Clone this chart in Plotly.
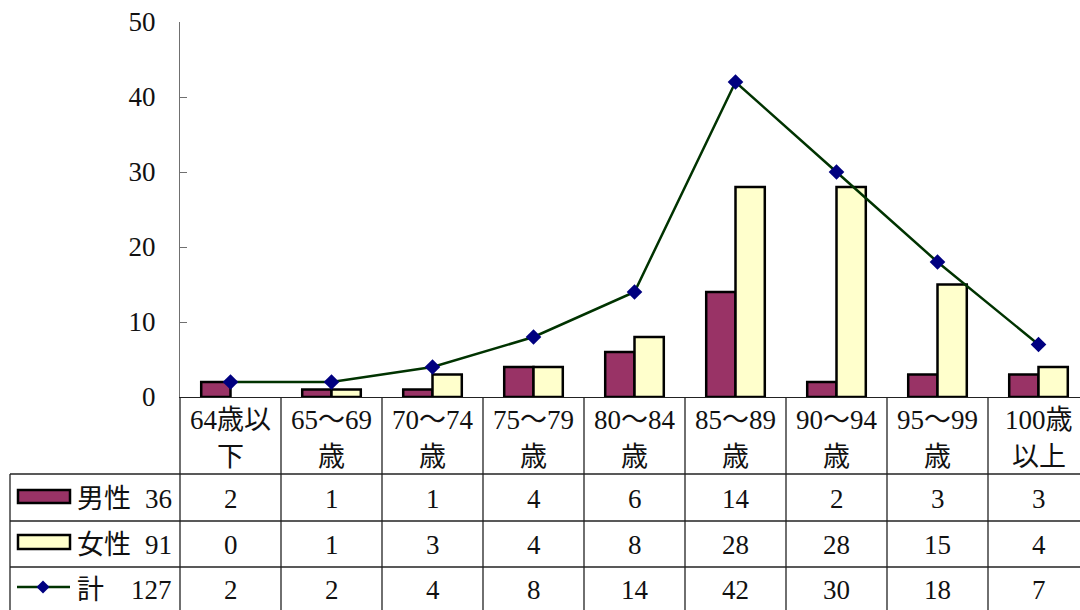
import plotly.graph_objects as go

# Age groups (two-line labels for the data-table header)
categories = ["64歳以<br>下", "65～69<br>歳", "70～74<br>歳", "75～79<br>歳", "80～84<br>歳",
              "85～89<br>歳", "90～94<br>歳", "95～99<br>歳", "100歳<br>以上"]
male = [2, 1, 1, 4, 6, 14, 2, 3, 3]
female = [0, 1, 3, 4, 8, 28, 28, 15, 4]
total = [2, 2, 4, 8, 14, 42, 30, 18, 7]
series_names = ["男性", "女性", "計"]
y_ticks = [0, 10, 20, 30, 40, 50]

W, H = 1080, 610
FONT = "Liberation Serif, Noto Sans CJK JP"
FS = 27
TXT = "#111111"
MALE_C = "#993366"
FEMALE_C = "#FFFFCC"
LINE_C = "#003300"
MARK_C = "#000080"
BAR_EDGE = 2.5


def px(x):
    return x / W


def py(y):
    return 1 - y / H


def outline_widths(vals):
    # no outline for empty (zero) bars
    return [BAR_EDGE if v else 0 for v in vals]


xs = list(range(len(categories)))
col_w = 101.0
plot_left, plot_right = 180, 1080
x_range = [-0.5, -0.5 + (plot_right - plot_left) / col_w]

fig = go.Figure()
fig.add_trace(go.Bar(x=xs, y=male, name=series_names[0],
                     marker=dict(color=MALE_C, line=dict(color="black", width=outline_widths(male)))))
fig.add_trace(go.Bar(x=xs, y=female, name=series_names[1],
                     marker=dict(color=FEMALE_C, line=dict(color="black", width=outline_widths(female)))))
fig.add_trace(go.Scatter(x=xs, y=total, name=series_names[2], mode="lines+markers",
                         line=dict(color=LINE_C, width=2.5),
                         marker=dict(symbol="diamond", size=12, color=MARK_C)))

shapes = []
annotations = []

# data table grid
line_style = dict(color="#222222", width=1.3)
for y in (474, 521, 567):
    shapes.append(dict(type="line", xref="paper", yref="paper", x0=px(10), x1=px(1080), y0=py(y), y1=py(y), line=line_style))
shapes.append(dict(type="line", xref="paper", yref="paper", x0=px(10), x1=px(10), y0=py(474), y1=py(640), line=line_style))
for i in range(len(categories)):
    xb = plot_left + i * col_w
    shapes.append(dict(type="line", xref="paper", yref="paper", x0=px(xb), x1=px(xb), y0=py(397), y1=py(640), line=line_style))

# header labels (two lines per column)
for i, lab in enumerate(categories):
    for j, part in enumerate(lab.split("<br>")):
        annotations.append(dict(x=i, xref="x", y=py(420 + 37 * j), yref="paper", text=part, showarrow=False,
                                xanchor="center", yanchor="middle", font=dict(family=FONT, size=FS, color=TXT)))

# values per row, with series key and total in the first column
row_centers = [499, 545, 590]
for r, vals in enumerate([male, female, total]):
    for i, v in enumerate(vals):
        annotations.append(dict(x=i, xref="x", y=py(row_centers[r]), yref="paper", text=str(v), showarrow=False,
                                xanchor="center", yanchor="middle", font=dict(family=FONT, size=FS, color=TXT)))
    annotations.append(dict(x=px(75), xref="paper", y=py(row_centers[r]), yref="paper", text=series_names[r],
                            showarrow=False, xanchor="left", yanchor="middle", font=dict(family=FONT, size=FS, color=TXT)))
    annotations.append(dict(x=px(174), xref="paper", y=py(row_centers[r]), yref="paper", text=str(sum(vals)),
                            showarrow=False, xanchor="right", yanchor="middle", font=dict(family=FONT, size=FS, color=TXT)))

# legend keys inside the table
shapes.append(dict(type="rect", xref="paper", yref="paper", x0=px(18), x1=px(70), y0=py(490), y1=py(503),
                   fillcolor=MALE_C, line=dict(color="black", width=BAR_EDGE)))
shapes.append(dict(type="rect", xref="paper", yref="paper", x0=px(18), x1=px(70), y0=py(535), y1=py(549),
                   fillcolor=FEMALE_C, line=dict(color="black", width=BAR_EDGE)))
shapes.append(dict(type="line", xref="paper", yref="paper", x0=px(17), x1=px(70), y0=py(587), y1=py(587),
                   line=dict(color=LINE_C, width=2.5)))
cx, cy, d = 43, 587, 6.5
shapes.append(dict(type="path", xref="paper", yref="paper",
                   path=f"M {px(cx)},{py(cy - d)} L {px(cx + d)},{py(cy)} L {px(cx)},{py(cy + d)} L {px(cx - d)},{py(cy)} Z",
                   fillcolor=MARK_C, line=dict(color=MARK_C, width=0)))

fig.update_layout(
    width=W, height=H,
    margin=dict(l=0, r=0, t=0, b=0, pad=0),
    paper_bgcolor="white", plot_bgcolor="white",
    barmode="group", bargap=0.42, bargroupgap=0,
    showlegend=False,
    shapes=shapes, annotations=annotations,
    xaxis=dict(domain=[px(plot_left), 1], range=x_range, showticklabels=False, ticks="", automargin=False,
               showgrid=False, zeroline=False, showline=True, linecolor="#222222", linewidth=1.3),
    yaxis=dict(domain=[py(397), py(22)], range=[0, 50], tickvals=y_ticks, ticks="inside", ticklen=7,
               tickcolor="#707070", tickwidth=1.3, showline=True, linecolor="#707070", linewidth=1.3,
               showgrid=False, zeroline=False, ticklabelstandoff=18, automargin=False,
               tickfont=dict(family=FONT, size=FS, color=TXT)),
)

fig.write_html("out.html")
